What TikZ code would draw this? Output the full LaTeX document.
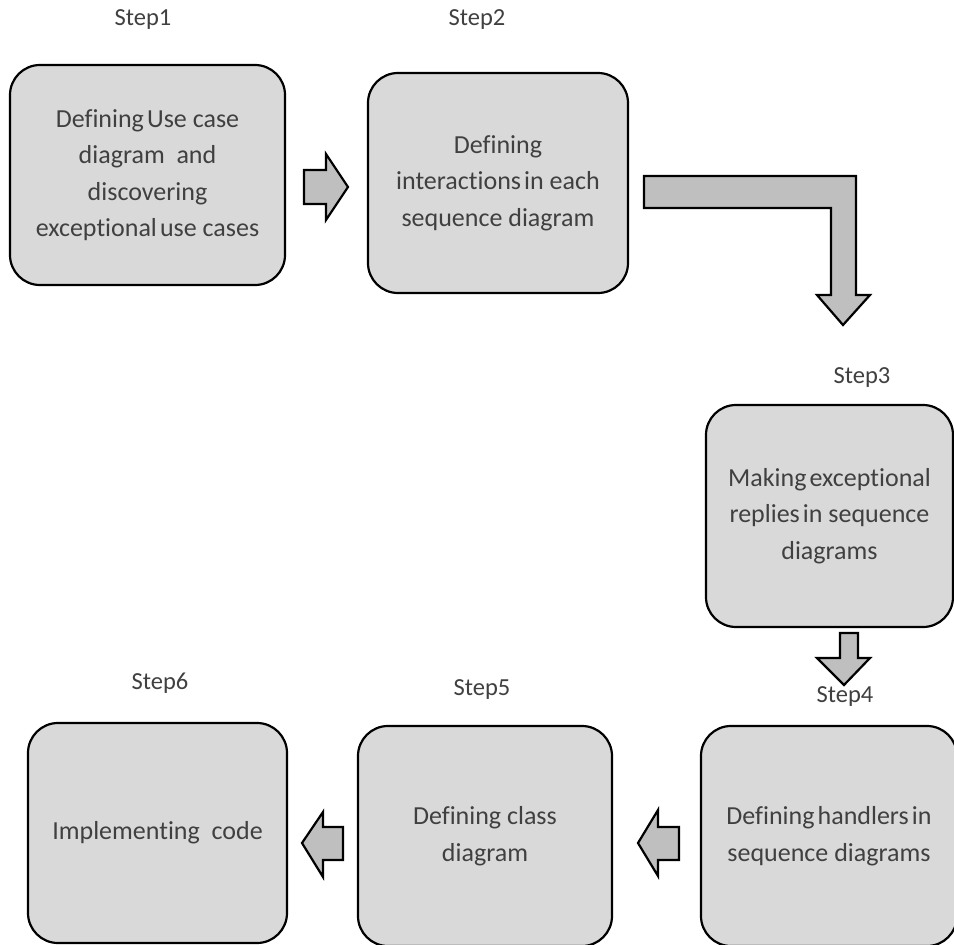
\documentclass[tikz,border=0pt]{standalone}
\usepackage{fontspec}
\setmainfont{Carlito}[Ligatures={NoCommon}]
\begin{document}
\begin{tikzpicture}[x=1pt,y=-1pt,
  stage/.style={draw=black, line width=2.2pt, fill=boxgray, rounded corners=30pt,
    inner sep=0pt, text=txtgray, align=center,
    font=\fontsize{26}{36.5}\selectfont},
  steplabel/.style={text=txtgray, font=\fontsize{24.5}{27}\selectfont, inner sep=0pt},
  blockarrow/.style={draw=black, line width=2.2pt, fill=arrowgray, line join=miter}]
\definecolor{boxgray}{RGB}{217,217,217}
\definecolor{arrowgray}{RGB}{191,191,191}
\definecolor{txtgray}{RGB}{64,64,64}
\newcommand{\tsp}{\hspace{0.12em}}
\useasboundingbox (0,0) rectangle (954,945);
\fill[white] (0,0) rectangle (954,945);

% process stages
\node[stage, minimum width=275pt, minimum height=220pt] (s1) at (147.5,175)
  {Defining\tsp Use case\\diagram\ \ and\\discovering\\exceptional\tsp use cases};
\node[stage, minimum width=260pt, minimum height=220pt] (s2) at (498,183)
  {Defining\\interactions\tsp in each\\sequence diagram};
\node[stage, minimum width=247pt, minimum height=222pt] (s3) at (829.5,516)
  {Making\tsp exceptional\\replies\tsp in sequence\\diagrams};
\node[stage, minimum width=256pt, minimum height=220pt] (s4) at (829,836)
  {Defining\tsp handlers\tsp in\\sequence diagrams};
\node[stage, minimum width=254pt, minimum height=220pt] (s5) at (485,836)
  {Defining class\\diagram};
\node[stage, minimum width=259pt, minimum height=220pt] (s6) at (157.5,833)
  {Implementing\ \ code};

% step captions
\node[steplabel] (l1) at (143,20) {Step1};
\node[steplabel] (l2) at (477,20) {Step2};
\node[steplabel] (l3) at (862,378) {Step3};
\node[steplabel] (l4) at (845,697) {Step4};
\node[steplabel] (l5) at (482,690) {Step5};
\node[steplabel] (l6) at (160,683) {Step6};

% block arrows between stages
\draw[blockarrow] (304,170) -- (326,170) -- (326,154) -- (348,187)
  -- (326,220) -- (326,204) -- (304,204) -- cycle;
\draw[blockarrow] (644,176) -- (856,176) -- (856,295) -- (870,295) -- (843,325)
  -- (817,295) -- (831,295) -- (831,208) -- (644,208) -- cycle;
\draw[blockarrow] (840,633) -- (858,633) -- (858,658) -- (870,658) -- (844,685)
  -- (817,658) -- (840,658) -- cycle;
\draw[blockarrow] (679,827) -- (658,827) -- (658,810) -- (638,843)
  -- (658,876) -- (658,860) -- (679,860) -- cycle;
\draw[blockarrow] (343,827) -- (323,827) -- (323,812) -- (302,843)
  -- (323,877) -- (323,860) -- (343,860) -- cycle;
\end{tikzpicture}
\end{document}
